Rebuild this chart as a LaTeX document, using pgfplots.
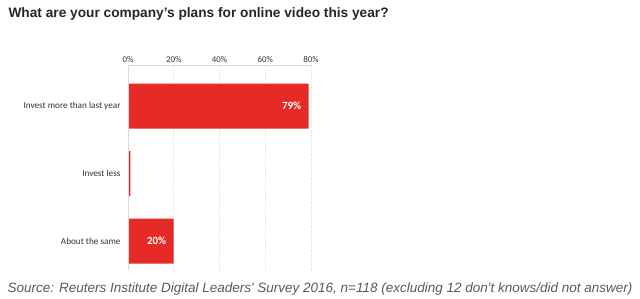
\documentclass[border=0pt]{standalone}
\usepackage{fontspec}
\setmainfont{Carlito}
\newfontfamily\arial{Liberation Sans}
\usepackage{pgfplots}
\pgfplotsset{compat=1.18}
\definecolor{barred}{HTML}{E52A27}
\definecolor{gridgray}{HTML}{D9D9D9}
\begin{document}
\begin{tikzpicture}
\path (0pt,0pt) rectangle (640pt,298pt);
\node[anchor=west, font=\arial\bfseries\fontsize{13.7}{15}\selectfont, text=black!85] at (5pt,284pt) {What are your company’s plans for online video this year?};
\node[anchor=west, font=\arial\itshape\fontsize{13.5}{15}\selectfont, text=black!65] at (4pt,9pt) {Source: Reuters Institute Digital Leaders' Survey 2016, n=118 (excluding 12 don't knows/did not answer)};
\begin{axis}[
  at={(128pt,28pt)}, anchor=south west,
  scale only axis, width=183pt, height=205pt,
  xbar, bar width=45pt,
  xmin=0, xmax=80,
  ymin=-0.61, ymax=2.43, y dir=reverse,
  ytick={0,1,2},
  yticklabels={Invest more than last year, Invest less, About the same},
  xtick={0,20,40,60,80},
  xticklabels={0\%,20\%,40\%,60\%,80\%},
  xticklabel pos=upper,
  major tick length=0pt,
  axis line style={draw=none},
  xmajorgrids, grid style={gridgray, dotted, line width=0.7pt},
  xticklabel style={font=\fontsize{8.8}{9}\selectfont, text=black!80, yshift=-1pt},
  yticklabel style={font=\fontsize{9.2}{10}\selectfont, text=black!80, xshift=-4pt},
  point meta=explicit symbolic,
  nodes near coords,
  nodes near coords style={anchor=east, xshift=-4pt, text=white, font=\bfseries\fontsize{11}{12}\selectfont},
  clip=false,
]
\addplot[fill=barred, draw=none] coordinates {(79,0) [79\%] (1,1) [] (20,2) [20\%]};
\draw[gridgray, line width=0.8pt] (axis cs:0,2.43) -- (axis cs:0,-0.61) -- (axis cs:80,-0.61);
\end{axis}
\end{tikzpicture}
\end{document}
